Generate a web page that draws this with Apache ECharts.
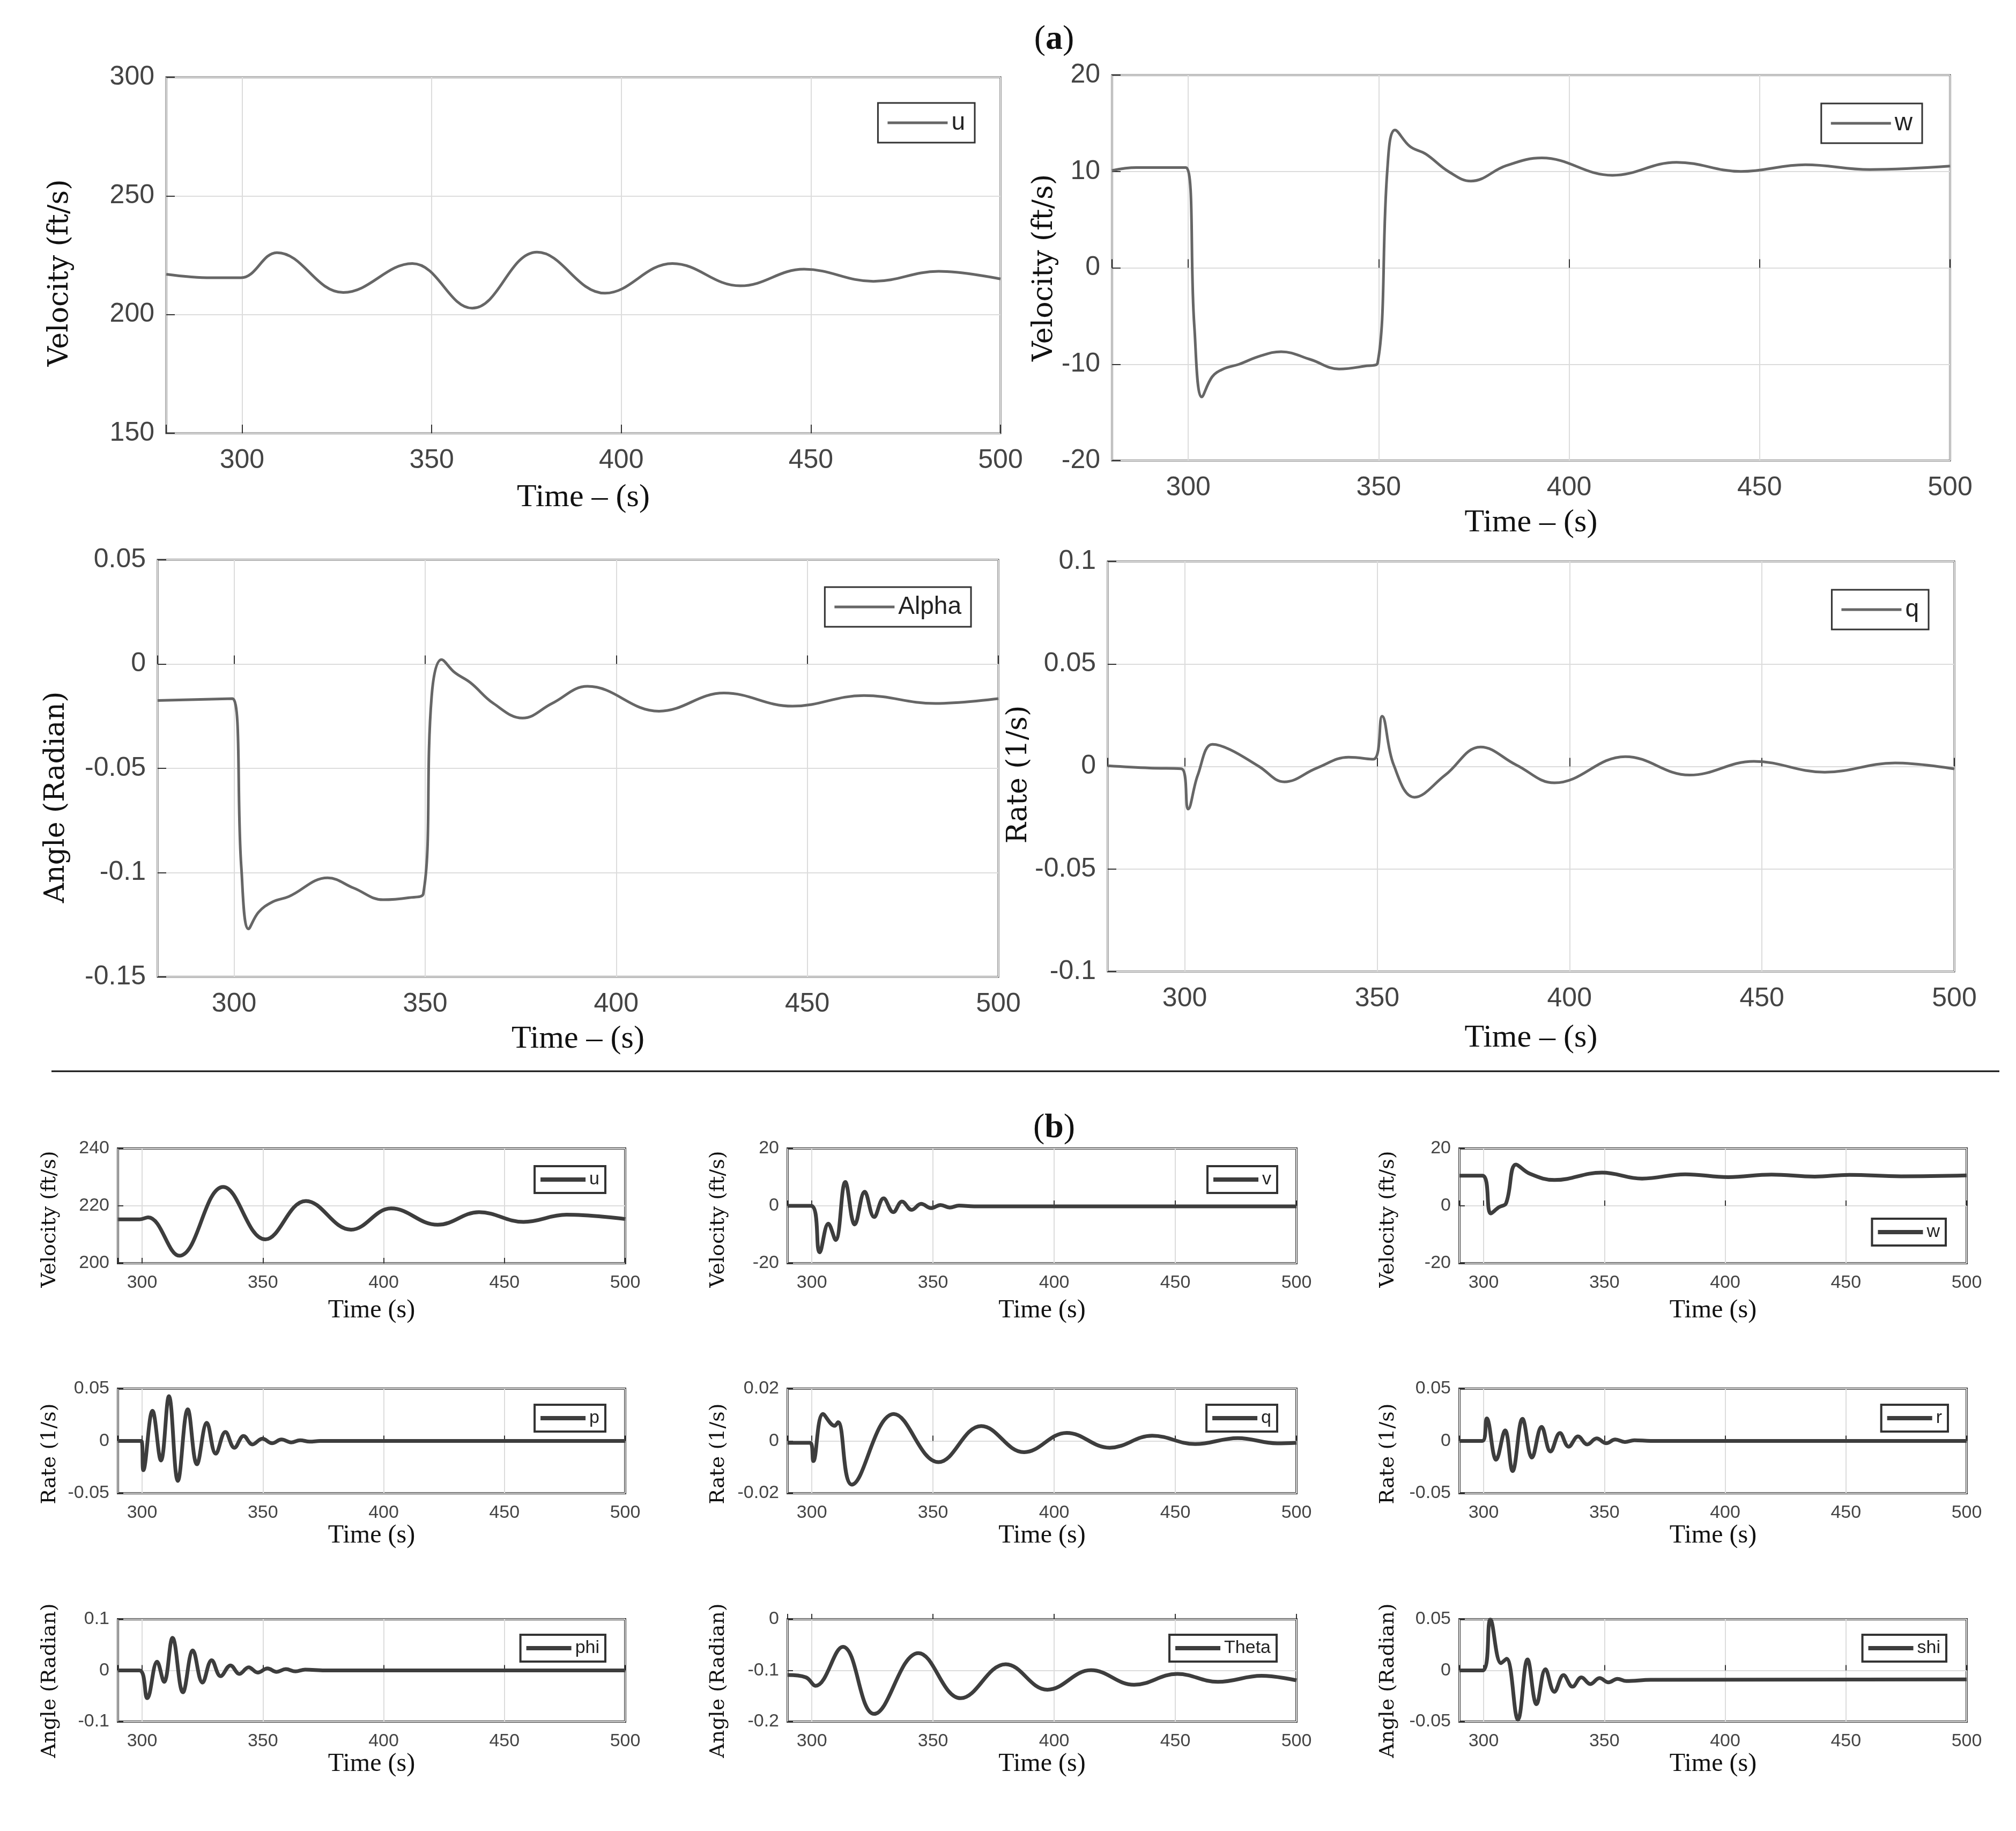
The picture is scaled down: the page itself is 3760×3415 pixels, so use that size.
<!DOCTYPE html>
<html><head><meta charset="utf-8">
<script src="https://cdn.jsdelivr.net/npm/echarts@6/dist/echarts.min.js"></script>
<style>html,body{margin:0;padding:0;background:#fff}#c{width:3760px;height:3415px}</style>
</head><body><div id="c"></div>
<script>
// ---------- data ----------
// (a) panels
const aU_t = [280, 292, 299.7, 309.2, 326.7, 344.9, 360.7, 377.8, 395.7, 413.5, 431.4, 448.2, 466.5, 483.7, 500];
const aU_v = [217.0, 215.5, 215.5, 226.1, 209.3, 221.5, 202.7, 226.3, 209.0, 221.5, 212.1, 219.1, 214.0, 218.2, 215.0];

const aW_t = [280, 286.4, 299.4, 301.6, 303.6, 306.3, 309.2, 313.4, 318.5, 324.4, 332, 339.6, 346.4, 349.7, 352.3, 354.3, 358.2, 362.4, 368.3, 374.2, 383.5, 392.8, 411.4, 428.2, 445.1, 462.0, 478.9, 500];
const aW_v = [10.1, 10.4, 10.4, -6.0, -13.4, -11.3, -10.5, -10.0, -9.2, -8.7, -9.5, -10.5, -10.2, -9.9, 10.3, 14.3, 12.6, 11.8, 10.0, 9.0, 10.6, 11.4, 9.6, 10.95, 10.0, 10.7, 10.2, 10.55];

const aAlpha_t = [280, 299.6, 301.9, 303.8, 306.4, 310.1, 314.3, 324.5, 331.3, 339, 345.8, 349.5, 351.7, 354.3, 357.7, 361.9, 367.9, 375.5, 383.2, 392.5, 411.2, 428.2, 446.1, 464.8, 483.5, 500];
const aAlpha_v = [-0.0175, -0.0166, -0.0975, -0.127, -0.119, -0.114, -0.1115, -0.1025, -0.1074, -0.113, -0.112, -0.1103, -0.0156, 0.0021, -0.004, -0.009, -0.0189, -0.0259, -0.0189, -0.0107, -0.0226, -0.0139, -0.0202, -0.0151, -0.0189, -0.0166];

const aQ_t = [280, 290.9, 299.2, 300.9, 303.4, 307.2, 311.7, 319.3, 325.9, 334.3, 342.6, 349, 351.3, 354.3, 359.7, 367.7, 376.9, 386.1, 396.1, 414.5, 431.2, 447.9, 466.3, 484.6, 500];
const aQ_v = [0.0003, -0.0008, -0.0012, -0.0208, -0.0042, 0.0108, 0.0083, 0, -0.0075, -0.0008, 0.0045, 0.0035, 0.0245, 0.0008, -0.015, -0.0042, 0.0095, 0.0008, -0.008, 0.0048, -0.0042, 0.0025, -0.0028, 0.0017, -0.0012];

// (b) panels
const bU_t = [290, 299, 302.5, 315.4, 333.6, 351, 367.8, 386.5, 403.1, 422.4, 439.5, 457.9, 475.7, 500];
const bU_v = [215.3, 215.3, 216.0, 202.6, 226.6, 208.3, 221.7, 211.7, 219.1, 213.4, 217.8, 214.4, 216.9, 215.4];

const bV_t = [290, 299.7, 303.2, 306.8, 309.8, 313.8, 317.7, 321.8, 325.7, 329.6, 333.6, 337.2, 341.2, 345.1, 349.2, 353.1, 356.9, 360.7, 367, 500];
const bV_v = [0, 0, -16.2, -6.2, -11.9, 8.3, -6.5, 4.9, -3.9, 2.6, -2.2, 1.5, -1.4, 0.7, -0.8, 0.3, -0.6, 0.1, -0.2, -0.2];

const bW_t = [290, 299.5, 303, 306.3, 309.3, 313.4, 319.1, 329.3, 349, 365.6, 383.5, 401.3, 419.2, 437.1, 451.4, 472.8, 500];
const bW_v = [10.5, 10.5, -2.65, -0.5, 0.9, 14.4, 11.2, 9.0, 11.6, 9.5, 11.0, 10.0, 10.9, 10.2, 10.8, 10.3, 10.6];

const bP_t = [290, 299.7, 300.5, 304.3, 307.8, 311.1, 314.8, 318.9, 322.7, 326.8, 330.5, 334.5, 338.2, 342, 345.7, 349.8, 353.8, 357.7, 361.7, 365.4, 369.4, 373.7, 500];
const bP_v = [0, 0, -0.028, 0.0288, -0.0187, 0.0428, -0.0382, 0.0303, -0.0223, 0.0173, -0.0122, 0.0086, -0.0065, 0.0048, -0.0033, 0.0022, -0.0022, 0.0014, -0.0014, 0.0007, -0.0007, 0, 0];

const bQ_t = [290, 299.4, 300.6, 304.6, 309.4, 310.8, 316.5, 333.8, 352.3, 369.9, 387.6, 405.2, 422.9, 440.5, 458.2, 475.8, 492, 500];
const bQ_v = [-0.0007, -0.0007, -0.0077, 0.0103, 0.0058, 0.0072, -0.0167, 0.0103, -0.0081, 0.0057, -0.0043, 0.0031, -0.0026, 0.002, -0.0012, 0.0011, -0.0009, -0.0007];

const bR_t = [290, 299.5, 301.3, 305.2, 308.9, 312, 316.1, 320, 324, 327.7, 331.6, 335.2, 339.1, 342.9, 346.8, 350.8, 354.5, 358.5, 362.4, 369.2, 500];
const bR_v = [0, 0, 0.0216, -0.018, 0.0101, -0.0288, 0.0212, -0.0159, 0.0134, -0.0101, 0.0076, -0.0055, 0.0043, -0.0033, 0.0024, -0.0022, 0.0014, -0.001, 0.0007, 0, 0];

const bPhi_t = [290, 298.9, 302.1, 306.2, 309.1, 312.6, 316.9, 321, 325, 328.8, 332.5, 336.6, 340.3, 344.1, 347.9, 351.9, 355.7, 359.5, 363.5, 367.5, 375.6, 500];
const bPhi_v = [0, 0, -0.0543, 0.017, -0.0223, 0.0636, -0.0426, 0.0389, -0.0237, 0.02, -0.0112, 0.0098, -0.0068, 0.006, -0.0042, 0.0039, -0.0028, 0.0025, -0.0019, 0.0016, 0, 0];

const bTheta_t = [290, 297.5, 301.5, 312.8, 325.7, 344, 361.4, 380, 397.2, 415.2, 433, 450.8, 467.6, 485.6, 500];
const bTheta_v = [-0.109, -0.1135, -0.130, -0.0539, -0.1849, -0.0661, -0.1543, -0.0879, -0.1377, -0.0996, -0.1281, -0.1068, -0.1223, -0.1106, -0.1194];

const bShi_t = [290, 299.6, 302.8, 307.2, 309.5, 314.2, 318.2, 321.9, 325.6, 329.3, 333.1, 336.8, 340.5, 344.2, 348, 351.7, 355.4, 359.1, 369.2, 500];
const bShi_v = [0, 0, 0.0496, 0.0071, 0.0114, -0.048, 0.0107, -0.033, 0.0012, -0.0209, -0.0046, -0.0159, -0.0068, -0.0133, -0.0075, -0.0116, -0.0082, -0.0104, -0.0092, -0.0088];

// axis ranges / tick labels
const aXRange = [280, 500];
const bXRange = [290, 500];
const xTickStep = 50;

// ---------- layout ----------
const A = {tickFont: 50, nameFont: 52, xNameFont: 60, line: 5, color: '#666', legFont: 46, legIcon: 112, legIconH: 5, legPad: [14, 18], tickLen: 16};
const B = {tickFont: 34, nameFont: 38, xNameFont: 48, line: 7, color: '#3d3d3d', legFont: 34, legIcon: 84, legIconH: 8, legPad: [8, 11], tickLen: 10};

const panels = [
  {key:'aU', label:'u', t:aU_t, v:aU_v, s:A, xr:aXRange, y:[150,300,50], yName:'Velocity (ft/s)', xName:'Time – (s)',
   grid:{left:310, top:144, width:1556, height:664}, yGap:172, yShift:66, xGap:90, leg:{right:1942, top:192}},
  {key:'aW', label:'w', t:aW_t, v:aW_v, s:A, xr:aXRange, y:[-20,20,10], yName:'Velocity (ft/s)', xName:'Time – (s)',
   grid:{left:2074, top:140, width:1563, height:719}, yGap:100, yShift:0, xGap:86, leg:{right:175, top:193}},
  {key:'aAlpha', label:'Alpha', t:aAlpha_t, v:aAlpha_v, s:A, xr:aXRange, y:[-0.15,0.05,0.05], yName:'Angle (Radian)', xName:'Time – (s)',
   grid:{left:294, top:1044, width:1568, height:778}, yGap:163, yShift:108, xGap:86, leg:{right:1949, top:1095}},
  {key:'aQ', label:'q', t:aQ_t, v:aQ_v, s:A, xr:aXRange, y:[-0.1,0.1,0.05], yName:'Rate (1/s)', xName:'Time – (s)',
   grid:{left:2066, top:1047, width:1579, height:765}, yGap:108, yShift:30, xGap:94, leg:{right:163, top:1100}},

  {key:'bU', label:'u', t:bU_t, v:bU_v, s:B, xr:bXRange, y:[200,240,20], yName:'Velocity (ft/s)', xName:'Time (s)',
   grid:{left:220, top:2142, width:946, height:214}, yGap:108, yShift:50, xGap:64, leg:{right:2631, top:2175}},
  {key:'bV', label:'v', t:bV_t, v:bV_v, s:B, xr:bXRange, y:[-20,20,20], yName:'Velocity (ft/s)', xName:'Time (s)',
   grid:{left:1469, top:2142, width:949, height:214}, yGap:110, yShift:50, xGap:64, leg:{right:1378, top:2175}},
  {key:'bW', label:'w', t:bW_t, v:bW_v, s:B, xr:bXRange, y:[-20,20,20], yName:'Velocity (ft/s)', xName:'Time (s)',
   grid:{left:2722, top:2142, width:946, height:214}, yGap:114, yShift:50, xGap:64, leg:{right:131, top:2273}},

  {key:'bP', label:'p', t:bP_t, v:bP_v, s:B, xr:bXRange, y:[-0.05,0.05,0.05], yName:'Rate (1/s)', xName:'Time (s)',
   grid:{left:220, top:2590, width:946, height:195}, yGap:108, yShift:48, xGap:54, leg:{right:2631, top:2620}},
  {key:'bQ', label:'q', t:bQ_t, v:bQ_v, s:B, xr:bXRange, y:[-0.02,0.02,0.02], yName:'Rate (1/s)', xName:'Time (s)',
   grid:{left:1469, top:2590, width:949, height:195}, yGap:110, yShift:48, xGap:54, leg:{right:1378, top:2620}},
  {key:'bR', label:'r', t:bR_t, v:bR_v, s:B, xr:bXRange, y:[-0.05,0.05,0.05], yName:'Rate (1/s)', xName:'Time (s)',
   grid:{left:2722, top:2590, width:946, height:195}, yGap:114, yShift:48, xGap:54, leg:{right:127, top:2620}},

  {key:'bPhi', label:'phi', t:bPhi_t, v:bPhi_v, s:B, xr:bXRange, y:[-0.1,0.1,0.1], yName:'Angle (Radian)', xName:'Time (s)',
   grid:{left:220, top:3020, width:946, height:191}, yGap:108, yShift:38, xGap:50, leg:{right:2631, top:3049}},
  {key:'bTheta', label:'Theta', t:bTheta_t, v:bTheta_v, s:B, xr:bXRange, y:[-0.2,0,0.1], yName:'Angle (Radian)', xName:'Time (s)',
   grid:{left:1469, top:3020, width:949, height:191}, yGap:110, yShift:38, xGap:50, leg:{right:1379, top:3049}},
  {key:'bShi', label:'shi', t:bShi_t, v:bShi_v, s:B, xr:bXRange, y:[-0.05,0.05,0.05], yName:'Angle (Radian)', xName:'Time (s)',
   grid:{left:2722, top:3020, width:946, height:191}, yGap:114, yShift:38, xGap:50, leg:{right:130, top:3049}}
];

const dispName = {};
panels.forEach(p => { dispName[p.key] = p.label; });

const grids = [], xAxes = [], yAxes = [], series = [], legends = [];
panels.forEach((p, i) => {
  const s = p.s;
  grids.push(Object.assign({show: true, borderColor: '#333', borderWidth: s === A ? 3 : 4, backgroundColor: '#fff'}, p.grid));
  xAxes.push({
    gridIndex: i, type: 'value', min: p.xr[0], max: p.xr[1],
    axisLine: {show: false},
    axisTick: {show: true, inside: true, length: s.tickLen, lineStyle: {color: '#333', width: 2}},
    splitLine: {show: true, lineStyle: {color: '#dcdcdc', width: 2}},
    axisLabel: {fontFamily: 'Liberation Sans', fontSize: s.tickFont, color: '#444', margin: s === A ? 26 : 20,
      formatter: v => (Math.abs(v % xTickStep) < 1e-9 ? String(v) : '')},
    name: p.xName, nameLocation: 'middle', nameGap: p.xGap,
    nameTextStyle: {fontFamily: 'Liberation Serif', fontSize: s.xNameFont, color: '#111'}
  });
  yAxes.push({
    gridIndex: i, type: 'value', min: p.y[0], max: p.y[1], interval: p.y[2],
    axisLine: {show: false},
    axisTick: {show: true, inside: true, length: s.tickLen, lineStyle: {color: '#333', width: 2}},
    splitLine: {show: true, lineStyle: {color: '#dcdcdc', width: 2}},
    axisLabel: {fontFamily: 'Liberation Sans', fontSize: s.tickFont, color: '#444', margin: s === A ? 22 : 16},
    name: p.yName, nameLocation: 'middle', nameGap: p.yGap,
    nameTextStyle: {fontFamily: 'DejaVu Serif', fontSize: s.nameFont, color: '#111', padding: [0, p.yShift, 0, 0]}
  });
  series.push({
    name: p.key, type: 'line', xAxisIndex: i, yAxisIndex: i,
    data: p.t.map((t, k) => [t, p.v[k]]),
    symbol: 'none', smooth: 0.4,
    lineStyle: {color: s.color, width: s.line}, itemStyle: {color: s.color},
    z: 3
  });
  legends.push({
    data: [p.key], right: p.leg.right, top: p.leg.top, selectedMode: false,
    icon: 'rect', itemWidth: s.legIcon, itemHeight: s.legIconH, itemGap: 0, padding: s.legPad,
    borderColor: '#333', borderWidth: s === A ? 3 : 4, backgroundColor: '#fff',
    formatter: n => dispName[n],
    textStyle: {fontFamily: 'Liberation Sans', fontSize: s.legFont, color: '#222', padding: [0, 0, 0, 2]}
  });
});

const chart = echarts.init(document.getElementById('c'), null, {renderer: 'canvas'});
chart.setOption({
  backgroundColor: '#fff',
  animation: false,
  grid: grids, xAxis: xAxes, yAxis: yAxes, series: series, legend: legends,
  graphic: [
    {type: 'text', x: 1966, y: 74, style: {text: '({b|a})', align: 'center', verticalAlign: 'middle', fontFamily: 'Liberation Serif', fontSize: 64, fill: '#111',
      rich: {b: {fontFamily: 'Liberation Serif', fontSize: 64, fontWeight: 'bold', fill: '#111'}}}},
    {type: 'text', x: 1966, y: 2104, style: {text: '({b|b})', align: 'center', verticalAlign: 'middle', fontFamily: 'Liberation Serif', fontSize: 64, fill: '#111',
      rich: {b: {fontFamily: 'Liberation Serif', fontSize: 64, fontWeight: 'bold', fill: '#111'}}}},
    {type: 'line', shape: {x1: 96, y1: 1998, x2: 3729, y2: 1998}, style: {stroke: '#111', lineWidth: 3}}
  ]
});
</script>
</body></html>
